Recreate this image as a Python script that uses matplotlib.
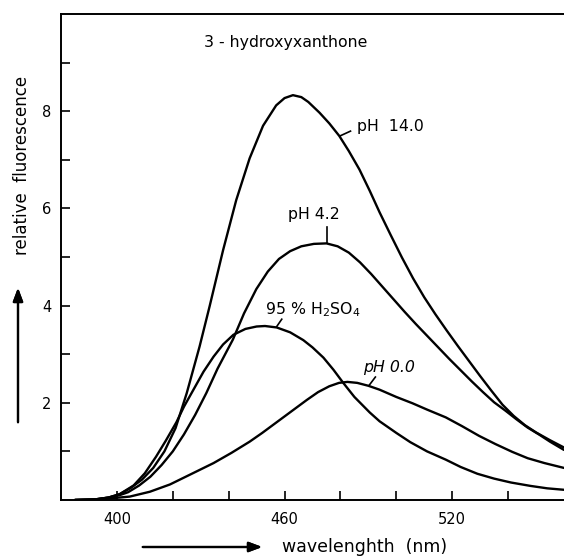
import numpy as np
import matplotlib.pyplot as plt

plt.rcParams['font.family'] = 'DejaVu Sans'
plt.rcParams['mathtext.default'] = 'regular'

# spectra (wavelength nm, relative fluorescence)
wl_ph14 = [385, 392, 397, 401, 405, 409, 413, 417, 421, 425, 429.6, 433.2, 438, 442.7, 447.5,
           452.3, 457, 460, 463, 466, 468.5, 472.5, 476, 479.6, 483, 486.8, 490.5, 494, 498, 502,
           506, 510, 514, 518, 522, 526, 530, 534, 538, 542, 546, 550, 555, 560]
fl_ph14 = [0.0, 0.01, 0.05, 0.12, 0.25, 0.42, 0.66, 1.0, 1.48, 2.2, 3.16, 3.99, 5.14, 6.17, 7.03,
           7.70, 8.12, 8.27, 8.33, 8.29, 8.19, 7.97, 7.75, 7.49, 7.18, 6.80, 6.36, 5.92, 5.45, 4.99,
           4.56, 4.17, 3.82, 3.49, 3.17, 2.86, 2.55, 2.25, 1.96, 1.73, 1.54, 1.39, 1.23, 1.08]

wl_ph42 = [385, 392, 397, 401, 404, 408, 412, 416, 420, 424, 428, 432, 436, 441.5, 445.5, 449.9,
           454, 458, 462, 466, 470.5, 475, 479, 483, 487, 491, 495, 499, 503, 507, 511, 515, 519,
           523, 527, 531, 535, 539, 543, 547, 551, 555, 560]
fl_ph42 = [0.0, 0.01, 0.05, 0.10, 0.16, 0.30, 0.48, 0.72, 1.0, 1.35, 1.75, 2.2, 2.7, 3.30, 3.84,
           4.34, 4.70, 4.96, 5.12, 5.22, 5.27, 5.28, 5.22, 5.09, 4.89, 4.65, 4.39, 4.13, 3.87,
           3.62, 3.38, 3.14, 2.90, 2.67, 2.44, 2.22, 2.01, 1.84, 1.66, 1.49, 1.35, 1.20, 1.03]

wl_h2so4 = [385, 392, 397, 401, 406, 410, 414, 417.5, 421.3, 424, 427.4, 431, 434.6, 438, 441.7,
            446, 450, 453, 457.2, 462, 466.7, 470, 473.9, 477.5, 481, 485, 490.5, 494, 500, 505,
            511, 517.7, 523, 529, 535, 541, 548, 554, 560]
fl_h2so4 = [0.0, 0.01, 0.05, 0.12, 0.30, 0.55, 0.89, 1.22, 1.60, 1.92, 2.27, 2.64, 2.95, 3.20, 3.40,
            3.52, 3.57, 3.58, 3.55, 3.45, 3.29, 3.14, 2.93, 2.68, 2.41, 2.12, 1.80, 1.62, 1.38, 1.19,
            1.00, 0.83, 0.68, 0.54, 0.44, 0.36, 0.29, 0.24, 0.21]

wl_ph00 = [385, 395, 404.6, 411.8, 419, 426.1, 434.6, 441, 447.5, 452, 456, 460, 464, 468, 472,
           476, 479.5, 482.5, 486, 490, 494, 500, 505.8, 511, 517.7, 523.5, 529.6, 535.5, 541.5,
           547, 553, 560]
fl_ph00 = [0.0, 0.02, 0.07, 0.17, 0.32, 0.52, 0.76, 0.97, 1.20, 1.38, 1.55, 1.72, 1.89, 2.06, 2.22,
           2.34, 2.41, 2.43, 2.41, 2.35, 2.27, 2.12, 1.99, 1.86, 1.70, 1.52, 1.32, 1.15, 0.99,
           0.86, 0.76, 0.66]

fig = plt.figure(figsize=(5.64, 5.56), dpi=100)
ax = fig.add_axes([61/564, 56/556, 1 - 61/564, 486/556])

for wl, fl in [(wl_ph14, fl_ph14), (wl_ph42, fl_ph42), (wl_h2so4, fl_h2so4), (wl_ph00, fl_ph00)]:
    ax.plot(wl, fl, color='black', lw=1.7, solid_joinstyle='round', solid_capstyle='round')

ax.set_xlim(380, 560)
ax.set_ylim(0, 10)
ax.spines['right'].set_visible(False)
for s in ['left', 'top', 'bottom']:
    ax.spines[s].set_linewidth(1.4)

ax.set_xticks(np.arange(400, 541, 20))
ax.set_xticklabels(['400', '', '', '460', '', '', '520', ''])
ax.set_yticks(np.arange(1, 10))
ax.set_yticklabels(['', '2', '', '4', '', '6', '', '8', ''])
ax.tick_params(direction='in', length=6.5, width=1.2, labelsize=10.5)
ax.tick_params(axis='x', pad=9)
ax.tick_params(axis='y', pad=7)

# curve labels with little pointer strokes
ax.text(431, 9.42, '3 - hydroxyxanthone', fontsize=11.3, va='center', ha='left')
ax.text(486.1, 7.69, 'pH  14.0', fontsize=11.3, va='center', ha='left')
ax.plot([479.8, 483.6], [7.49, 7.59], color='black', lw=1.2)
ax.text(461.1, 5.88, 'pH 4.2', fontsize=11.3, va='center', ha='left')
ax.plot([475.2, 475.2], [5.28, 5.61], color='black', lw=1.2)
ax.text(452.9, 3.92, '95 % H$_2$SO$_4$', fontsize=11.3, va='center', ha='left')
ax.plot([457.2, 459.0], [3.57, 3.72], color='black', lw=1.2)
ax.text(488.0, 2.72, 'pH 0.0', fontsize=11.3, va='center', ha='left', style='italic')
ax.plot([490.4, 492.5], [2.37, 2.53], color='black', lw=1.2)

# axis titles with arrows
fig.text(22/564, 1 - 165/556, 'relative  fluorescence', rotation=90, fontsize=12,
         ha='center', va='center')
fig.text(282/564, 1 - 547/556, 'wavelenghth  (nm)', fontsize=12.5, ha='left', va='center')
arrow = dict(arrowstyle='-|>,head_length=0.8,head_width=0.3', color='black', lw=1.6)
fig.add_artist(plt.annotate('', xy=(18/564, 1 - 285/556), xytext=(18/564, 1 - 425/556),
                            xycoords='figure fraction', arrowprops=arrow))
fig.add_artist(plt.annotate('', xy=(265/564, 1 - 547/556), xytext=(140/564, 1 - 547/556),
                            xycoords='figure fraction', arrowprops=arrow))

fig.savefig('out.png', dpi=100)
